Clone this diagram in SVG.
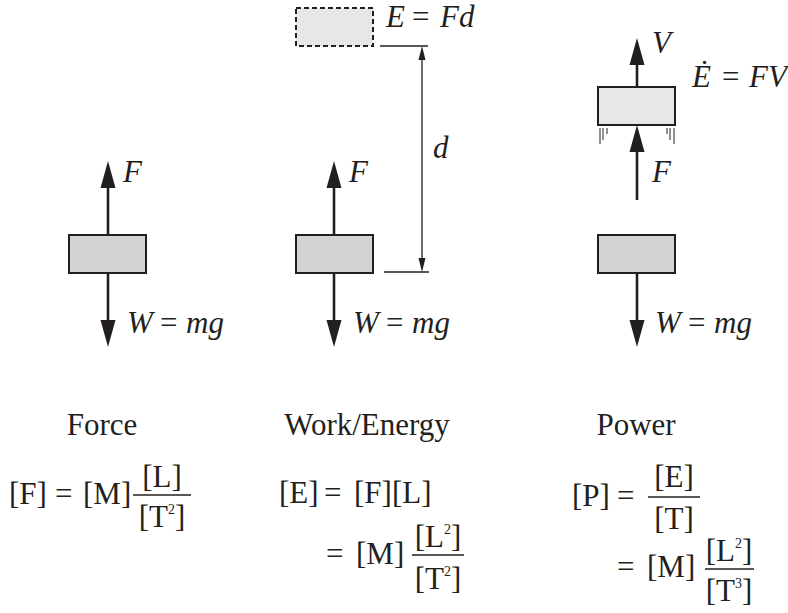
<svg xmlns="http://www.w3.org/2000/svg" width="788" height="613" viewBox="0 0 788 613">
<style>
text{font-family:"Liberation Serif","Times New Roman",serif;fill:#231f20;font-size:31px}
.it{font-style:italic}
.up{font-style:normal}
.mid{text-anchor:middle}
.sup{font-size:14px}
.box{fill:#d1d3d4;stroke:#231f20;stroke-width:2}
.lbox{fill:#e6e7e8;stroke:#231f20;stroke-width:2}
.dash{fill:#e6e7e8;stroke:#231f20;stroke-width:2;stroke-dasharray:5 3}
.force{stroke:#231f20;stroke-width:2.6;fill:none;marker-end:url(#head)}
.thin{stroke:#231f20;stroke-width:1.3;fill:none}
.dim{stroke:#231f20;stroke-width:1.3;fill:none;marker-start:url(#small);marker-end:url(#small)}
.frac{stroke:#231f20;stroke-width:1.5}
.mark{stroke:#231f20;stroke-width:1}
</style>
<defs>
<marker id="head" markerUnits="userSpaceOnUse" markerWidth="30" markerHeight="16" refX="0" refY="7.5" orient="auto" overflow="visible">
<path d="M0,0 L27,7.5 L0,15 Z" fill="#231f20"/>
</marker>
<marker id="small" markerUnits="userSpaceOnUse" markerWidth="16" markerHeight="8" refX="0" refY="3.5" orient="auto-start-reverse" overflow="visible">
<path d="M0,0 L14,3.5 L0,7 Z" fill="#231f20"/>
</marker>
</defs>

<g id="force-node">
<rect class="box" x="69" y="235" width="77" height="38"/>
<text class="it" x="123" y="182">F</text>
<text class="it" x="127" y="333">W<tspan class="up" x="160">=</tspan><tspan x="186">mg</tspan></text>
<text class="mid" x="102" y="435">Force</text>
<text x="9" y="504">[F]<tspan x="55">=</tspan><tspan x="83">[M]</tspan></text>
<text class="mid" x="162" y="487">[L]</text>
<text class="mid" x="162" y="527">[T<tspan class="sup" dy="-13">2</tspan><tspan dy="13">]</tspan></text>
</g>

<g id="work-node">
<rect class="dash" x="296" y="8" width="77" height="38"/>
<text class="it" x="386" y="27">E<tspan class="up" x="412">=</tspan><tspan x="440">Fd</tspan></text>
<rect class="box" x="296" y="235" width="77" height="38"/>
<text class="it" x="349" y="182">F</text>
<text class="it" x="353" y="333">W<tspan class="up" x="386">=</tspan><tspan x="412">mg</tspan></text>
<text class="it" x="433" y="158">d</text>
<text class="mid" x="367" y="435">Work/Energy</text>
<text x="279" y="503">[E]<tspan x="324">=</tspan><tspan x="354">[F][L]</tspan></text>
<text x="326" y="564">=<tspan x="356">[M]</tspan></text>
<text class="mid" x="438" y="547">[L<tspan class="sup" dy="-13">2</tspan><tspan dy="13">]</tspan></text>
<text class="mid" x="438" y="589">[T<tspan class="sup" dy="-13">2</tspan><tspan dy="13">]</tspan></text>
</g>

<g id="power-node">
<rect class="lbox" x="598" y="87" width="77" height="38"/>
<rect class="box" x="598" y="235" width="77" height="38"/>
<text class="it" x="652" y="53">V</text>
<text class="it" x="692" y="87">Ė<tspan class="up" x="722">=</tspan><tspan x="749">FV</tspan></text>
<text class="it" x="652" y="182">F</text>
<text class="it" x="655" y="333">W<tspan class="up" x="688">=</tspan><tspan x="714">mg</tspan></text>
<g id="motion-marks">
<line class="mark" x1="600" y1="128" x2="600" y2="144"/>
<line class="mark" x1="603" y1="128" x2="603" y2="140"/>
<line class="mark" x1="607" y1="128" x2="607" y2="134"/>
<line class="mark" x1="667" y1="128" x2="667" y2="134"/>
<line class="mark" x1="670" y1="128" x2="670" y2="140"/>
<line class="mark" x1="674" y1="128" x2="674" y2="144"/>
</g>
<text class="mid" x="636" y="435">Power</text>
<text x="572" y="506">[P]<tspan x="617">=</tspan></text>
<text class="mid" x="674" y="487">[E]</text>
<text class="mid" x="674" y="529">[T]</text>
<text x="617" y="577">=<tspan x="647">[M]</tspan></text>
<text class="mid" x="729" y="561">[L<tspan class="sup" dy="-13">2</tspan><tspan dy="13">]</tspan></text>
<text class="mid" x="729" y="601">[T<tspan class="sup" dy="-13">3</tspan><tspan dy="13">]</tspan></text>
</g>

<g id="connectors">
<line class="force" x1="108" y1="235" x2="108" y2="188"/>
<line class="force" x1="108" y1="273" x2="108" y2="320"/>
<line class="force" x1="334" y1="235" x2="334" y2="188"/>
<line class="force" x1="334" y1="273" x2="334" y2="320"/>
<line class="force" x1="637" y1="87" x2="637" y2="65"/>
<line class="force" x1="637" y1="200" x2="637" y2="152"/>
<line class="force" x1="637" y1="273" x2="637" y2="320"/>
<line class="thin" x1="380" y1="46" x2="428" y2="46"/>
<line class="thin" x1="384" y1="272" x2="429" y2="272"/>
<line class="dim" x1="422" y1="60" x2="422" y2="258"/>
<line class="frac" x1="133" y1="495" x2="191" y2="495"/>
<line class="frac" x1="412" y1="555" x2="464" y2="555"/>
<line class="frac" x1="648" y1="497" x2="700" y2="497"/>
<line class="frac" x1="705" y1="569" x2="754" y2="569"/>
</g>
</svg>
